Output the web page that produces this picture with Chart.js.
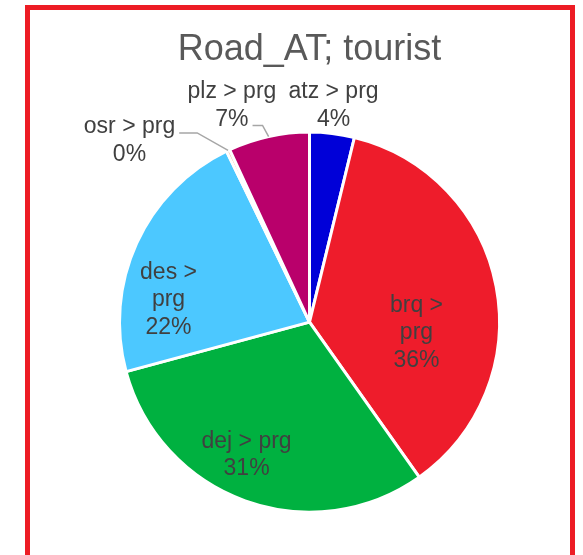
<!DOCTYPE html>
<html>
<head>
<meta charset="utf-8">
<script src="https://cdn.jsdelivr.net/npm/chart.js@4/dist/chart.umd.min.js"></script>
<style>
  html, body { margin: 0; padding: 0; background: #fff; overflow: hidden; }
  #wrap { position: relative; width: 583px; height: 555px; }
  #frame {
    position: absolute; left: 25px; top: 5px; width: 540px; height: 560px;
    border: 5px solid #ED1C24; pointer-events: none;
  }
  canvas { position: absolute; left: 0; top: 0; }
</style>
</head>
<body>
<div id="wrap">
  <canvas id="pie" width="583" height="555"></canvas>
  <div id="frame"></div>
</div>
<script>
// slice data, clockwise from the top
var routes = ['atz > prg', 'brq > prg', 'dej > prg', 'des > prg', 'osr > prg', 'plz > prg'];
var shares = [3.8, 36.4, 30.6, 22.0, 0.3, 6.9];
var sliceColors = ['#0000D8', '#EE1C2B', '#00B140', '#4CC8FF', '#F4A582', '#B9006B'];

// how each label is broken into lines
var labelLines = [
    ['atz > prg'], ['brq >', 'prg'], ['dej > prg'], ['des >', 'prg'], ['osr > prg'], ['plz > prg']
];

// label placement: angle (deg, clockwise from top) offset from slice middle, distance as radius fraction
var labelPlace = [
    { da: -0.5, k: 1.146, leader: false },
    { da: 16.7, k: 0.566, leader: false },
    { da: 5.5,  k: 0.775, leader: false },
    { da: -15.6, k: 0.751, leader: false },
    { da: -19.4, k: 1.345, leader: true },
    { da: -7.3, k: 1.21,  leader: true }
];

var pieLabels = {
    id: 'pieLabels',
    afterDatasetsDraw: function(chart) {
        var ctx = chart.ctx;
        var meta = chart.getDatasetMeta(0);
        var total = shares.reduce(function(a, b) { return a + b; }, 0);
        ctx.save();
        ctx.font = '23px "Liberation Sans", Arial, sans-serif';
        ctx.fillStyle = '#404040';
        ctx.textAlign = 'center';
        ctx.textBaseline = 'middle';
        meta.data.forEach(function(arc, i) {
            var p = arc.getProps(['x', 'y', 'startAngle', 'endAngle', 'outerRadius'], true);
            var mid = (p.startAngle + p.endAngle) / 2 + labelPlace[i].da * Math.PI / 180;
            var d = p.outerRadius * labelPlace[i].k;
            var cx = p.x + Math.cos(mid) * d;
            var cy = p.y + Math.sin(mid) * d;
            var lines = labelLines[i].concat([Math.round(shares[i] / total * 100) + '%']);
            var lh = 27.5;
            var top = cy - (lines.length - 1) * lh / 2;
            lines.forEach(function(t, j) {
                ctx.fillText(t, cx, top + j * lh);
            });

            if (labelPlace[i].leader) {
                // leader line from the label's last line to the slice edge
                var em = (p.startAngle + p.endAngle) / 2;
                var ex = p.x + Math.cos(em) * p.outerRadius;
                var ey = p.y + Math.sin(em) * p.outerRadius;
                var lastW = ctx.measureText(lines[lines.length - 2 >= 0 && i === 4 ? 0 : lines.length - 1]).width;
                var ly = i === 4 ? top : top + (lines.length - 1) * lh;
                var lx = cx + lastW / 2 + 4;
                ctx.strokeStyle = '#A6A6A6';
                ctx.lineWidth = 1.5;
                ctx.beginPath();
                ctx.moveTo(lx, ly + 6);
                ctx.lineTo(lx + (i === 4 ? 18 : 10), ly + 6);
                ctx.lineTo(ex, ey);
                ctx.stroke();
            }
        });
        ctx.restore();
    }
};

new Chart(document.getElementById('pie').getContext('2d'), {
    type: 'pie',
    data: {
        labels: routes,
        datasets: [{
            data: shares,
            backgroundColor: sliceColors,
            borderColor: '#ffffff',
            borderWidth: 3
        }]
    },
    options: {
        responsive: false,
        animation: false,
        layout: { padding: { left: 118, right: 82, bottom: 41 } },
        plugins: {
            legend: { display: false },
            tooltip: { enabled: false },
            title: {
                display: true,
                text: 'Road_AT; tourist',
                color: '#595959',
                font: { family: '"Liberation Sans", Arial, sans-serif', size: 36, weight: 'normal' },
                padding: { top: 28, bottom: 59 }
            }
        }
    },
    plugins: [pieLabels]
});
</script>
</body>
</html>
